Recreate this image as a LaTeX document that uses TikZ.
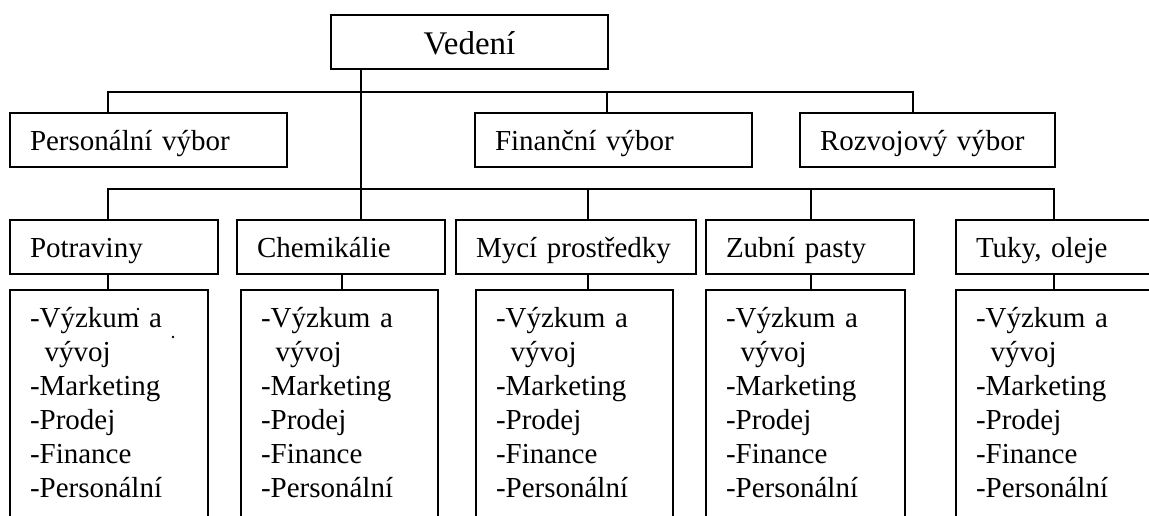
\documentclass[tikz,border=0pt]{standalone}
\usepackage{fontspec}
\setmainfont{Liberation Serif}

\newcommand{\ukoly}{-Výzkum a\\\hspace*{0.5em}vývoj\\-Marketing\\-Prodej\\-Finance\\-Personální}

\begin{document}
\begin{tikzpicture}
[x=1pt,y=-1pt,line width=2pt,
 head node/.style={draw,anchor=north west,minimum width=277pt,minimum height=54pt,font=\fontsize{33}{38}\selectfont,text height=32.6pt,text depth=6.6pt},
 dept node/.style={draw,anchor=north west,minimum height=54pt,inner xsep=20pt,inner ysep=0pt,text width=#1-40pt,align=left,font=\fontsize{29}{34}\selectfont,text height=27pt,text depth=5.8pt},
 task node/.style={draw,anchor=north west,inner xsep=20pt,inner ysep=13.8pt,text width=#1-40pt,align=left,font=\fontsize{29}{34}\selectfont,text height=23.2pt,text depth=240pt}]

  \path[use as bounding box,fill=white] (0,0) rectangle (1149,516);
  \clip (0,0) rectangle (1149,516);

  \node[head node] (vedeni) at (330,14) {Vedení};

  \node[dept node=277pt] (personal) at (9,112) {Personální výbor};
  \node[dept node=277pt] (financni) at (474,112) {Finanční výbor};
  \node[dept node=255pt] (rozvoj) at (799,112) {Rozvojový výbor};

  \node[dept node=208pt] (potraviny) at (9,219) {Potraviny};
  \node[dept node=208pt] (chemie) at (236,219) {Chemikálie};
  \node[dept node=240pt] (myci) at (455,219) {Mycí prostředky};
  \node[dept node=208pt] (zubni) at (705,219) {Zubní pasty};
  \node[dept node=260pt] (tuky) at (955,219) {Tuky, oleje};

  \node[task node=198pt] (potraviny-u) at (9,289) {\ukoly};
  \node[task node=197pt] (chemie-u) at (240,289) {\ukoly};
  \node[task node=197pt] (myci-u) at (475,289) {\ukoly};
  \node[task node=199pt] (zubni-u) at (705,289) {\ukoly};
  \node[task node=220pt] (tuky-u) at (955,289) {\ukoly};

  % vedeni and the committees
  \coordinate (kmen) at (361,0);
  \coordinate (s1) at (108,92);
  \coordinate (s2) at (607,92);
  \coordinate (s3) at (913,92);
  \draw (vedeni.south -| kmen) -- (chemie.north -| kmen);
  \draw (personal.north -| s1) |- (s3) -- (rozvoj.north -| s3);
  \draw (s2) -- (financni.north -| s2);

  % divisions
  \coordinate (r1) at (108,189);
  \coordinate (r3) at (588,189);
  \coordinate (r4) at (811,189);
  \coordinate (r5) at (1054,189);
  \draw (potraviny.north -| r1) |- (r5) -- (tuky.north -| r5);
  \draw (r3) -- (myci.north -| r3);
  \draw (r4) -- (zubni.north -| r4);

  \foreach \a/\x in {potraviny/108,chemie/342,myci/588,zubni/811,tuky/1054}
  {
    \coordinate (d) at (\x,0);
    \draw (\a.south -| d) -- (\a-u.north -| d);
  }

  \fill (138,309) circle (1.3pt);
  \fill (173,337) circle (1.3pt);

\end{tikzpicture}
\end{document}
